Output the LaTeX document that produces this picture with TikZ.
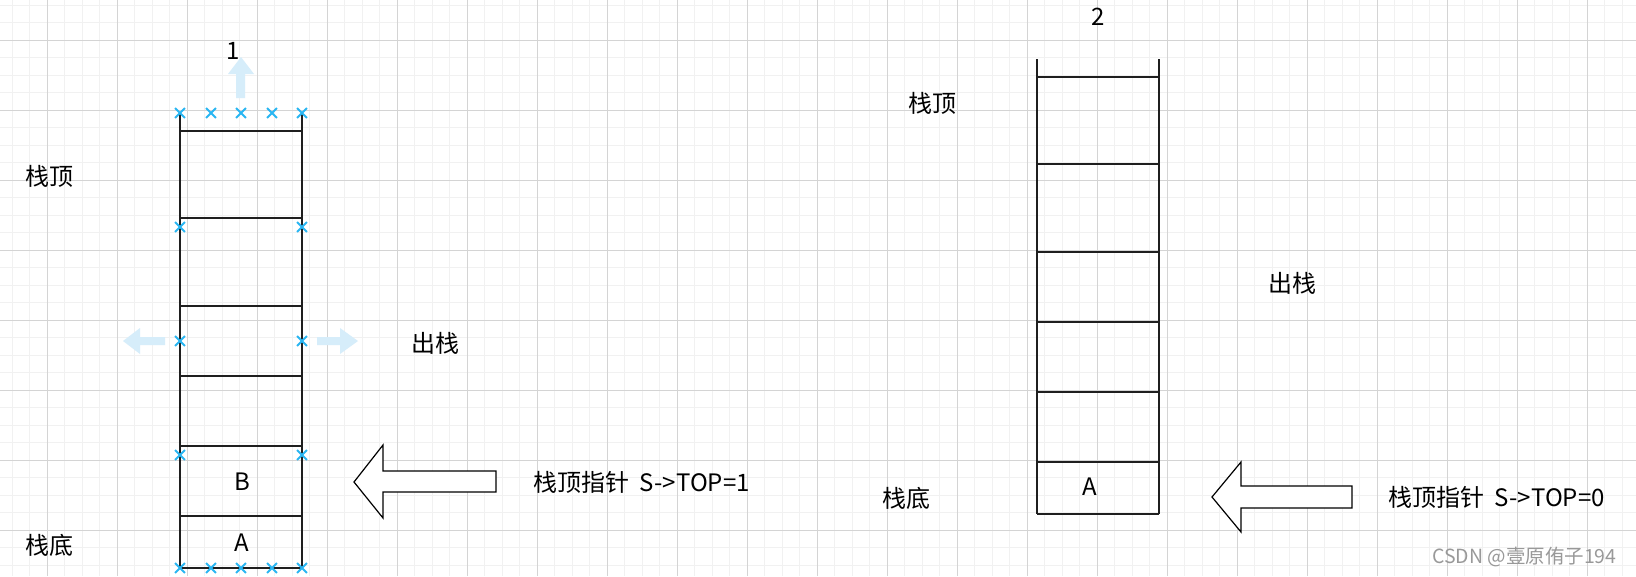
\documentclass[tikz,border=0pt]{standalone}
\usepackage{fontspec}
\setmainfont{Noto Sans CJK SC}
\usetikzlibrary{shapes.misc}

\definecolor{gridmajor}{RGB}{212,212,212}
\definecolor{gridminor}{RGB}{241,241,241}
\definecolor{handleblue}{RGB}{41,182,242}
\definecolor{hintblue}{RGB}{214,237,250}

\begin{document}
\begin{tikzpicture}
[x=1pt, y=-1pt,
 every node/.style={inner sep=0pt, font=\fontsize{24}{28}\selectfont},
 stackline/.style={line width=1.6pt, black!88},
 handle/.style={cross out, draw=handleblue, line width=1.8pt, minimum size=8pt},
 hint/.style={fill=hintblue, draw=none},
 bigarrow/.style={draw, line width=1.2pt, fill=white, line join=miter}]

\useasboundingbox (0,0) rectangle (1636,576);
\fill[white] (0,0) rectangle (1636,576);

% grid
\foreach \i in {0,...,92}
	\draw[gridminor, line width=1pt] ({12+17.5*\i},0) -- ({12+17.5*\i},576);
\foreach \i in {0,...,32}
	\draw[gridminor, line width=1pt] (0,{5+17.5*\i}) -- (1636,{5+17.5*\i});
\foreach \i in {0,...,22}
	\draw[gridmajor, line width=1pt] ({47+70*\i},0) -- ({47+70*\i},576);
\foreach \i in {0,...,7}
	\draw[gridmajor, line width=1pt] (0,{40+70*\i}) -- (1636,{40+70*\i});

% the two stacks
\foreach \dx/\dy in {0/0,857/-54}
{
\begin{scope}[shift={(\dx,\dy)}]
\foreach \y in {131,218,306,376,446,516,568}
	\draw[stackline] (180,\y) -- (302,\y);
\draw[stackline] (180,113) -- (180,568) (302,113) -- (302,568);
\end{scope}
}

% selection hints on stack 1
\fill[hint] (241,57) -- (254,74) -- (245,74) -- (245,98) -- (236,98) -- (236,74) -- (228,74) -- cycle;
\fill[hint] (123,341) -- (140,328) -- (140,337) -- (165,337) -- (165,345) -- (140,345) -- (140,354) -- cycle;
\fill[hint] (358,341) -- (340,328) -- (340,337) -- (317,337) -- (317,345) -- (340,345) -- (340,354) -- cycle;

\foreach \n/\x/\y in {t1/180/113,t2/211/113,t3/241/113,t4/272/113,t5/302/113,
	l1/180/227,r1/302/227,l2/180/341,r2/302/341,l3/180/455,r3/302/455,
	b1/180/568,b2/211/568,b3/241/568,b4/272/568,b5/302/568}
	\node[handle] (h\n) at (\x,\y) {};

% pointer arrows
\draw[bigarrow] (354,482) -- (383,445) -- (383,471) -- (496,471) -- (496,492) -- (383,492) -- (383,518) -- cycle;
\draw[bigarrow] (1212,497) -- (1241,462) -- (1241,486) -- (1352,486) -- (1352,508) -- (1241,508) -- (1241,532) -- cycle;

% labels
\node (num1) at (233,51) {1};
\node (num2) at (1098,17) {2};
\node (cellB) at (242,482) {B};
\node (cellA) at (242,543) {A};
\node (cellA2) at (1090,487) {A};

\node (topL) at (49,176) {栈顶};
\node (botL) at (49,545) {栈底};
\node (popL) at (435,343) {出栈};
\node (topR) at (932,103) {栈顶};
\node (botR) at (906,498) {栈底};
\node (popR) at (1292,283) {出栈};

\node[anchor=west] (ptrL) at (533,482) {栈顶指针\ \ S->TOP=1};
\node[anchor=west] (ptrR) at (1388,497) {栈顶指针\ \ S->TOP=0};

\node[anchor=west, text=black!40, font=\fontsize{19.5}{22}\selectfont] (mark) at (1432,557) {CSDN @壹原侑子194};

\end{tikzpicture}
\end{document}
